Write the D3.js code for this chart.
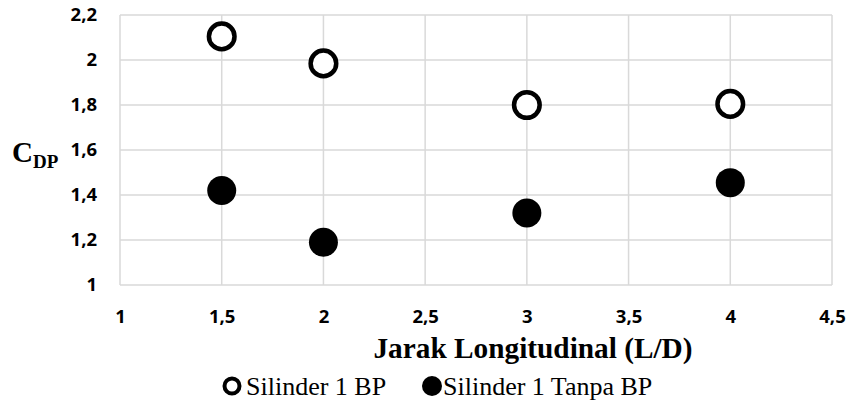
<!DOCTYPE html>
<html>
<head>
<meta charset="utf-8">
<script src="https://cdn.jsdelivr.net/npm/d3@7"></script>
<style>
  html, body { margin: 0; padding: 0; background: #fff; }
  svg { display: block; }
</style>
</head>
<body>
<svg id="chart" width="850" height="402"></svg>
<script>
// Longitudinal spacing ratio L/D
const jarak = [1.5, 2, 3, 4];
// Pressure drag coefficient, cylinder 1 with and without BP
const silinderBP = [2.105, 1.985, 1.80, 1.805];
const silinderTanpaBP = [1.42, 1.19, 1.32, 1.455];
const xTicks = [1, 1.5, 2, 2.5, 3, 3.5, 4, 4.5];
const yTicks = [1, 1.2, 1.4, 1.6, 1.8, 2, 2.2];
const seriesNames = ["Silinder 1 BP", "Silinder 1 Tanpa BP"];

const svg = d3.select("#chart");
const plot = { left: 120, right: 832, top: 15, bottom: 285 };

const x = d3.scaleLinear().domain([1, 4.5]).range([plot.left, plot.right]);
const y = d3.scaleLinear().domain([1, 2.2]).range([plot.bottom, plot.top]);
const fmt = v => String(v).replace(".", ",");

const tickFont = "'Open Sans', sans-serif";
const serif = "'Liberation Serif', 'Times New Roman', serif";

// Gridlines
const grid = svg.append("g");
grid.selectAll("line.v").data(xTicks).join("line")
  .attr("x1", d => x(d)).attr("x2", d => x(d))
  .attr("y1", plot.top).attr("y2", plot.bottom)
  .attr("stroke", "#d9d9d9").attr("stroke-width", 1.5);
grid.selectAll("line.h").data(yTicks).join("line")
  .attr("x1", plot.left).attr("x2", plot.right)
  .attr("y1", d => y(d)).attr("y2", d => y(d))
  .attr("stroke", "#d9d9d9").attr("stroke-width", 1.5);

// Axes (labels only)
const xAxis = svg.append("g")
  .attr("transform", `translate(0,${plot.bottom})`)
  .call(d3.axisBottom(x).tickValues(xTicks).tickFormat(fmt).tickSize(0).tickPadding(25));
const yAxis = svg.append("g")
  .attr("transform", `translate(${plot.left},0)`)
  .call(d3.axisLeft(y).tickValues(yTicks).tickFormat(fmt).tickSize(0).tickPadding(23));
[xAxis, yAxis].forEach(a => {
  a.select(".domain").remove();
  a.selectAll("text")
    .attr("font-family", tickFont).attr("font-weight", "bold")
    .attr("font-size", 18.5).attr("fill", "#000");
});

// Axis titles
svg.append("text")
  .attr("x", 533).attr("y", 358)
  .attr("text-anchor", "middle")
  .attr("font-family", serif).attr("font-weight", "bold").attr("font-size", 29.3)
  .text("Jarak Longitudinal (L/D)");

const yTitle = svg.append("text")
  .attr("x", 12).attr("y", 162)
  .attr("font-family", serif).attr("font-weight", "bold").attr("font-size", 29);
yTitle.append("tspan").text("C");
yTitle.append("tspan").attr("dy", 6).attr("font-size", 19).text("DP");

// Markers
svg.append("g").selectAll("circle").data(jarak).join("circle")
  .attr("cx", d => x(d)).attr("cy", (d, i) => y(silinderBP[i]))
  .attr("r", 12.8).attr("fill", "#fff").attr("stroke", "#000").attr("stroke-width", 4.5);
svg.append("g").selectAll("circle").data(jarak).join("circle")
  .attr("cx", d => x(d)).attr("cy", (d, i) => y(silinderTanpaBP[i]))
  .attr("r", 14.5).attr("fill", "#000");

// Legend
const legend = svg.append("g");
legend.append("circle").attr("cx", 232).attr("cy", 386).attr("r", 7.5)
  .attr("fill", "#fff").attr("stroke", "#000").attr("stroke-width", 4);
legend.append("text").attr("x", 246).attr("y", 395)
  .attr("font-family", serif).attr("font-size", 26).text(seriesNames[0]);
legend.append("circle").attr("cx", 432).attr("cy", 386).attr("r", 10).attr("fill", "#000");
legend.append("text").attr("x", 443).attr("y", 395)
  .attr("font-family", serif).attr("font-size", 26).text(seriesNames[1]);
</script>
</body>
</html>
